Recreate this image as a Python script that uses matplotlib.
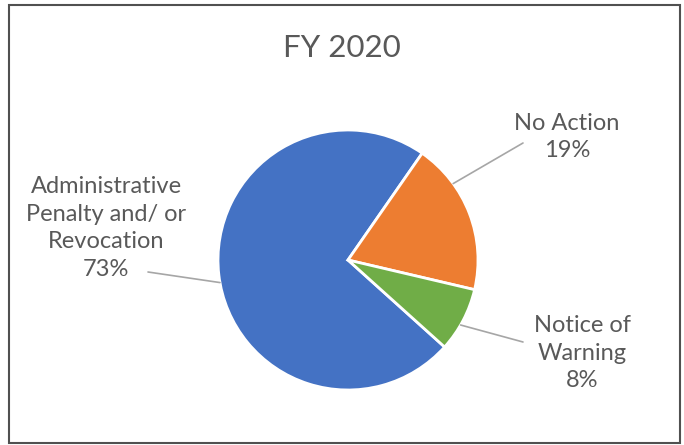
import numpy as np
import matplotlib.pyplot as plt
from matplotlib.patches import Rectangle

# donnees du graphique
categories = ['Administrative\nPenalty and/ or\nRevocation', 'No Action', 'Notice of\nWarning']
pourcentages = [73, 19, 8]
couleurs = ['#4472C4', '#ED7D31', '#70AD47']
titre = 'FY 2020'

W, H = 684, 445
fig = plt.figure(figsize=(W / 100, H / 100), dpi=100)
ax = fig.add_axes([0, 0, 1, 1])

centre = (348, H - 260)
rayon = 130

wedges, _ = ax.pie(pourcentages, colors=couleurs, startangle=-42, counterclock=False,
                   center=centre, radius=rayon,
                   wedgeprops=dict(edgecolor='white', linewidth=2))
ax.set_xlim(0, W)
ax.set_ylim(0, H)
ax.set_aspect('equal')
ax.axis('off')

# etiquettes : (angle d'accroche, fin du trait, centre du texte)
placement = [(-170, (148, 173), (106, 217)),
             (36, (523, 302), (567, 308)),
             (-30, (523, 103), (582, 92))]

for cat, p, (ang, fin, pos) in zip(categories, pourcentages, placement):
    a = np.deg2rad(ang)
    pt = (centre[0] + rayon * np.cos(a), centre[1] + rayon * np.sin(a))
    ax.annotate('', xy=pt, xytext=fin,
                arrowprops=dict(arrowstyle='-', color='#A6A6A6', lw=1.2, shrinkA=0, shrinkB=0))
    ax.text(pos[0], pos[1], f'{cat}\n{p}%', ha='center', va='center',
            fontsize=17, color='#595959', family=['Lato', 'DejaVu Sans'], linespacing=1.4)

ax.text(342, H - 48, titre, ha='center', va='center', fontsize=22.5,
        color='#595959', family=['Lato', 'DejaVu Sans'])

fig.patches.append(Rectangle((9 / W, 2 / H), 671 / W, 438 / H, transform=fig.transFigure,
                             fill=False, edgecolor='#505050', linewidth=1.5))

fig.savefig('out.png', dpi=100)
